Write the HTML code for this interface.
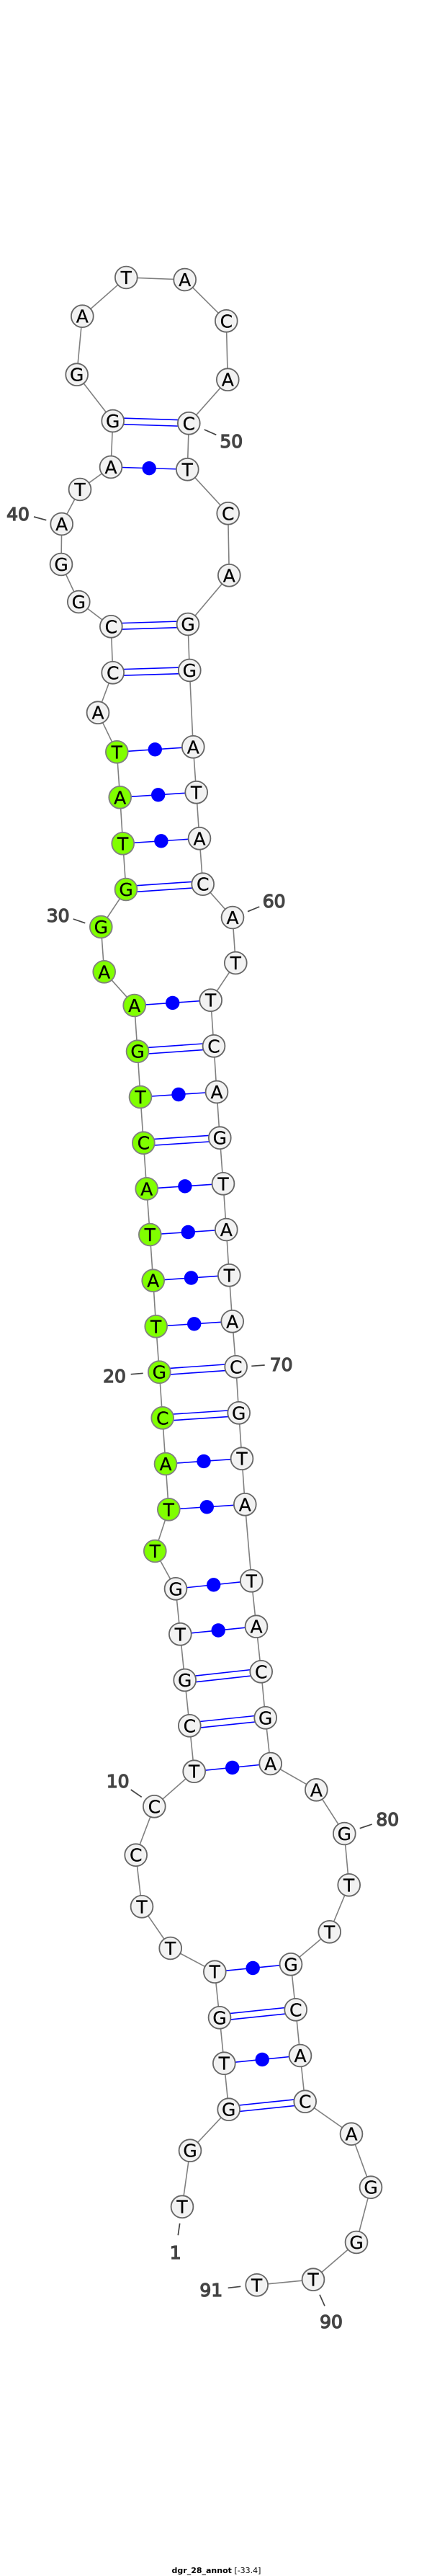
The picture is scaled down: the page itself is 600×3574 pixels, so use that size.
<!DOCTYPE html>
<html><head><meta charset="utf-8"><style>
html,body{margin:0;padding:0;background:#fff}
svg{display:block}
.b{font:25px "DejaVu Sans",sans-serif;fill:#000;stroke:#000;stroke-width:.25;text-anchor:middle}
.l{font:25px "DejaVu Sans",sans-serif;fill:#444;stroke:#444;stroke-width:1.3;text-anchor:middle}
</style></head><body>
<svg xmlns="http://www.w3.org/2000/svg" width="600" height="3574" viewBox="0 0 600 3574">
<rect width="600" height="3574" fill="#fff"/>
<polyline fill="none" stroke="#808080" stroke-width="1.6" points="253,3061.7 264,2983.7 317.7,2926.7 311.3,2862.7 305,2799.3 298.3,2735.7 236.7,2703 197,2645.3 188.7,2573.7 214.3,2506.3 269.7,2457.7 263.3,2394.3 256.7,2331 250.3,2267.3 244,2204.3 215.3,2152 234.3,2094.3 230,2031 225.7,1967.3 221.3,1903.7 216.7,1840.3 212.7,1776.7 208.3,1713 203.7,1649.3 199.3,1585.7 195,1522 191,1458.7 186.7,1395 144.7,1348.3 140.3,1286 175,1234 170.7,1170.3 166.7,1106.3 162.3,1043.3 136,988.7 156.7,933.3 154.3,869.3 109.3,835 85,783 85.7,727 111,679 154,648 156.7,584 106.7,519.7 114.3,438.7 175.3,385 256.7,388 314.3,445.3 316.3,526.7 262.3,587.3 260.3,651.3 316.7,712.3 318.3,798.3 261,866 263.3,930 268.3,1036.3 272.7,1099.3 277,1163.3 281.7,1226.7 323,1273 327.3,1336 292.7,1387.7 297,1451.3 301,1515 305.3,1578.7 310,1642.3 314.3,1706 318.3,1769.3 322.7,1833.3 327.7,1896.3 331.7,1960.3 336,2023.7 340.3,2087.3 349.3,2193.3 356,2256.7 362.7,2319.3 368.7,2383.3 375.7,2447 439.3,2483.3 478.3,2544 484.7,2615.3 457.7,2680.3 404,2725.3 410.7,2788.3 417,2852 423.7,2915.7 488,2960.7 515,3034.7 495,3111 435,3162.7 356.7,3170.3"/>
<g stroke="#0000ff" stroke-width="1.6" fill="none">
<path d="M298.3 2735.7L404 2725.3M311.3 2862.7L417 2852M269.7 2457.7L375.7 2447M250.3 2267.3L356 2256.7M244 2204.3L349.3 2193.3M234.3 2094.3L340.3 2087.3M230 2031L336 2023.7M216.7 1840.3L322.7 1833.3M212.7 1776.7L318.3 1769.3M208.3 1713L314.3 1706M203.7 1649.3L310 1642.3M195 1522L301 1515M186.7 1395L292.7 1387.7M170.7 1170.3L277 1163.3M166.7 1106.3L272.7 1099.3M162.3 1043.3L268.3 1036.3M154 648L260.3 651.3"/>
<path d="M305 2795L410.7 2784M305 2803.6L410.7 2792.6M317.7 2922.4L423.7 2911.4M317.7 2931L423.7 2920M263.3 2390L368.7 2379M263.3 2398.6L368.7 2387.6M256.7 2326.7L362.7 2315M256.7 2335.3L362.7 2323.6M225.7 1963L331.7 1956M225.7 1971.6L331.7 1964.6M221.3 1899.4L327.7 1892M221.3 1908L327.7 1900.6M199.3 1581.4L305.3 1574.4M199.3 1590L305.3 1583M191 1454.4L297 1447M191 1463L297 1455.6M175 1229.7L281.7 1222.4M175 1238.3L281.7 1231M156.7 929L263.3 925.7M156.7 937.6L263.3 934.3M154.3 865L261 861.7M154.3 873.6L261 870.3M156.7 579.7L262.3 583M156.7 588.3L262.3 591.6"/>
</g>
<g fill="#0000ff">
<circle cx="351.2" cy="2730.5" r="9.7"/><circle cx="364.2" cy="2857.4" r="9.7"/><circle cx="322.7" cy="2452.4" r="9.7"/><circle cx="303.2" cy="2262" r="9.7"/><circle cx="296.7" cy="2198.8" r="9.7"/><circle cx="287.3" cy="2090.8" r="9.7"/><circle cx="283" cy="2027.4" r="9.7"/><circle cx="269.7" cy="1836.8" r="9.7"/><circle cx="265.5" cy="1773" r="9.7"/><circle cx="261.3" cy="1709.5" r="9.7"/><circle cx="256.9" cy="1645.8" r="9.7"/><circle cx="248" cy="1518.5" r="9.7"/><circle cx="239.7" cy="1391.4" r="9.7"/><circle cx="223.9" cy="1166.8" r="9.7"/><circle cx="219.7" cy="1102.8" r="9.7"/><circle cx="215.3" cy="1039.8" r="9.7"/><circle cx="207.2" cy="649.7" r="9.7"/>
</g>
<g fill="#f2f2f2" stroke="#666" stroke-width="1.8">
<circle cx="253" cy="3061.7" r="15.4"/><circle cx="264" cy="2983.7" r="15.4"/><circle cx="317.7" cy="2926.7" r="15.4"/><circle cx="311.3" cy="2862.7" r="15.4"/><circle cx="305" cy="2799.3" r="15.4"/><circle cx="298.3" cy="2735.7" r="15.4"/><circle cx="236.7" cy="2703" r="15.4"/><circle cx="197" cy="2645.3" r="15.4"/><circle cx="188.7" cy="2573.7" r="15.4"/><circle cx="214.3" cy="2506.3" r="15.4"/><circle cx="269.7" cy="2457.7" r="15.4"/><circle cx="263.3" cy="2394.3" r="15.4"/><circle cx="256.7" cy="2331" r="15.4"/><circle cx="250.3" cy="2267.3" r="15.4"/><circle cx="244" cy="2204.3" r="15.4"/>
<circle cx="136" cy="988.7" r="15.4"/><circle cx="156.7" cy="933.3" r="15.4"/><circle cx="154.3" cy="869.3" r="15.4"/><circle cx="109.3" cy="835" r="15.4"/><circle cx="85" cy="783" r="15.4"/><circle cx="85.7" cy="727" r="15.4"/><circle cx="111" cy="679" r="15.4"/><circle cx="154" cy="648" r="15.4"/><circle cx="156.7" cy="584" r="15.4"/><circle cx="106.7" cy="519.7" r="15.4"/><circle cx="114.3" cy="438.7" r="15.4"/><circle cx="175.3" cy="385" r="15.4"/><circle cx="256.7" cy="388" r="15.4"/><circle cx="314.3" cy="445.3" r="15.4"/><circle cx="316.3" cy="526.7" r="15.4"/><circle cx="262.3" cy="587.3" r="15.4"/><circle cx="260.3" cy="651.3" r="15.4"/><circle cx="316.7" cy="712.3" r="15.4"/><circle cx="318.3" cy="798.3" r="15.4"/><circle cx="261" cy="866" r="15.4"/><circle cx="263.3" cy="930" r="15.4"/><circle cx="268.3" cy="1036.3" r="15.4"/><circle cx="272.7" cy="1099.3" r="15.4"/><circle cx="277" cy="1163.3" r="15.4"/><circle cx="281.7" cy="1226.7" r="15.4"/><circle cx="323" cy="1273" r="15.4"/><circle cx="327.3" cy="1336" r="15.4"/><circle cx="292.7" cy="1387.7" r="15.4"/><circle cx="297" cy="1451.3" r="15.4"/><circle cx="301" cy="1515" r="15.4"/><circle cx="305.3" cy="1578.7" r="15.4"/><circle cx="310" cy="1642.3" r="15.4"/><circle cx="314.3" cy="1706" r="15.4"/><circle cx="318.3" cy="1769.3" r="15.4"/><circle cx="322.7" cy="1833.3" r="15.4"/><circle cx="327.7" cy="1896.3" r="15.4"/><circle cx="331.7" cy="1960.3" r="15.4"/><circle cx="336" cy="2023.7" r="15.4"/><circle cx="340.3" cy="2087.3" r="15.4"/><circle cx="349.3" cy="2193.3" r="15.4"/><circle cx="356" cy="2256.7" r="15.4"/><circle cx="362.7" cy="2319.3" r="15.4"/><circle cx="368.7" cy="2383.3" r="15.4"/><circle cx="375.7" cy="2447" r="15.4"/><circle cx="439.3" cy="2483.3" r="15.4"/><circle cx="478.3" cy="2544" r="15.4"/><circle cx="484.7" cy="2615.3" r="15.4"/><circle cx="457.7" cy="2680.3" r="15.4"/><circle cx="404" cy="2725.3" r="15.4"/><circle cx="410.7" cy="2788.3" r="15.4"/><circle cx="417" cy="2852" r="15.4"/><circle cx="423.7" cy="2915.7" r="15.4"/><circle cx="488" cy="2960.7" r="15.4"/><circle cx="515" cy="3034.7" r="15.4"/><circle cx="495" cy="3111" r="15.4"/><circle cx="435" cy="3162.7" r="15.4"/><circle cx="356.7" cy="3170.3" r="15.4"/>
</g>
<g fill="#80ff00" stroke="#808080" stroke-width="1.8">
<circle cx="215.3" cy="2152" r="15.4"/><circle cx="234.3" cy="2094.3" r="15.4"/><circle cx="230" cy="2031" r="15.4"/><circle cx="225.7" cy="1967.3" r="15.4"/><circle cx="221.3" cy="1903.7" r="15.4"/><circle cx="216.7" cy="1840.3" r="15.4"/><circle cx="212.7" cy="1776.7" r="15.4"/><circle cx="208.3" cy="1713" r="15.4"/><circle cx="203.7" cy="1649.3" r="15.4"/><circle cx="199.3" cy="1585.7" r="15.4"/><circle cx="195" cy="1522" r="15.4"/><circle cx="191" cy="1458.7" r="15.4"/><circle cx="186.7" cy="1395" r="15.4"/><circle cx="144.7" cy="1348.3" r="15.4"/><circle cx="140.3" cy="1286" r="15.4"/><circle cx="175" cy="1234" r="15.4"/><circle cx="170.7" cy="1170.3" r="15.4"/><circle cx="166.7" cy="1106.3" r="15.4"/><circle cx="162.3" cy="1043.3" r="15.4"/>
</g>
<g class="letters">
<text class="b" x="253" y="3070.7">T</text><text class="b" x="264" y="2992.7">G</text><text class="b" x="317.7" y="2935.7">G</text><text class="b" x="311.3" y="2871.7">T</text><text class="b" x="305" y="2808.3">G</text><text class="b" x="298.3" y="2744.7">T</text><text class="b" x="236.7" y="2712">T</text><text class="b" x="197" y="2654.3">T</text><text class="b" x="188.7" y="2582.7">C</text><text class="b" x="214.3" y="2515.3">C</text><text class="b" x="269.7" y="2466.7">T</text><text class="b" x="263.3" y="2403.3">C</text><text class="b" x="256.7" y="2340">G</text><text class="b" x="250.3" y="2276.3">T</text><text class="b" x="244" y="2213.3">G</text><text class="b" x="215.3" y="2161">T</text><text class="b" x="234.3" y="2103.3">T</text><text class="b" x="230" y="2040">A</text><text class="b" x="225.7" y="1976.3">C</text><text class="b" x="221.3" y="1912.7">G</text><text class="b" x="216.7" y="1849.3">T</text><text class="b" x="212.7" y="1785.7">A</text><text class="b" x="208.3" y="1722">T</text><text class="b" x="203.7" y="1658.3">A</text><text class="b" x="199.3" y="1594.7">C</text><text class="b" x="195" y="1531">T</text><text class="b" x="191" y="1467.7">G</text><text class="b" x="186.7" y="1404">A</text><text class="b" x="144.7" y="1357.3">A</text><text class="b" x="140.3" y="1295">G</text><text class="b" x="175" y="1243">G</text><text class="b" x="170.7" y="1179.3">T</text><text class="b" x="166.7" y="1115.3">A</text><text class="b" x="162.3" y="1052.3">T</text><text class="b" x="136" y="997.7">A</text><text class="b" x="156.7" y="942.3">C</text><text class="b" x="154.3" y="878.3">C</text><text class="b" x="109.3" y="844">G</text><text class="b" x="85" y="792">G</text><text class="b" x="85.7" y="736">A</text><text class="b" x="111" y="688">T</text><text class="b" x="154" y="657">A</text><text class="b" x="156.7" y="593">G</text><text class="b" x="106.7" y="528.7">G</text><text class="b" x="114.3" y="447.7">A</text><text class="b" x="175.3" y="394">T</text><text class="b" x="256.7" y="397">A</text><text class="b" x="314.3" y="454.3">C</text><text class="b" x="316.3" y="535.7">A</text><text class="b" x="262.3" y="596.3">C</text><text class="b" x="260.3" y="660.3">T</text><text class="b" x="316.7" y="721.3">C</text><text class="b" x="318.3" y="807.3">A</text><text class="b" x="261" y="875">G</text><text class="b" x="263.3" y="939">G</text><text class="b" x="268.3" y="1045.3">A</text><text class="b" x="272.7" y="1108.3">T</text><text class="b" x="277" y="1172.3">A</text><text class="b" x="281.7" y="1235.7">C</text><text class="b" x="323" y="1282">A</text><text class="b" x="327.3" y="1345">T</text><text class="b" x="292.7" y="1396.7">T</text><text class="b" x="297" y="1460.3">C</text><text class="b" x="301" y="1524">A</text><text class="b" x="305.3" y="1587.7">G</text><text class="b" x="310" y="1651.3">T</text><text class="b" x="314.3" y="1715">A</text><text class="b" x="318.3" y="1778.3">T</text><text class="b" x="322.7" y="1842.3">A</text><text class="b" x="327.7" y="1905.3">C</text><text class="b" x="331.7" y="1969.3">G</text><text class="b" x="336" y="2032.7">T</text><text class="b" x="340.3" y="2096.3">A</text><text class="b" x="349.3" y="2202.3">T</text><text class="b" x="356" y="2265.7">A</text><text class="b" x="362.7" y="2328.3">C</text><text class="b" x="368.7" y="2392.3">G</text><text class="b" x="375.7" y="2456">A</text><text class="b" x="439.3" y="2492.3">A</text><text class="b" x="478.3" y="2553">G</text><text class="b" x="484.7" y="2624.3">T</text><text class="b" x="457.7" y="2689.3">T</text><text class="b" x="404" y="2734.3">G</text><text class="b" x="410.7" y="2797.3">C</text><text class="b" x="417" y="2861">A</text><text class="b" x="423.7" y="2924.7">C</text><text class="b" x="488" y="2969.7">A</text><text class="b" x="515" y="3043.7">G</text><text class="b" x="495" y="3120">G</text><text class="b" x="435" y="3171.7">T</text><text class="b" x="356.7" y="3179.3">T</text>
</g>
<path stroke="#444" stroke-width="1.7" fill="none" d="M283.7 596L300.3 603.3M47 717L64.3 721.7M344 1264.7L360.3 1258M101.7 1275L118.3 1280.7M181.7 1906.7L198.7 1905.3M349.3 1895.3L367.7 1894M181.7 2483L196.7 2493.3M499.7 2536.7L516.7 2531M249.7 3084.7L247.3 3101.3M444 3183.7L451 3199.3M316.7 3174.3L334.3 3172.3"/>
<g>
<text class="l" x="321.3" y="621">50</text><text class="l" x="25" y="722">40</text><text class="l" x="380.7" y="1259">60</text><text class="l" x="80.7" y="1279">30</text><text class="l" x="159" y="1918">20</text><text class="l" x="390.7" y="1902">70</text><text class="l" x="163.7" y="2480">10</text><text class="l" x="538.3" y="2533">80</text><text class="l" x="243.7" y="3134">1</text><text class="l" x="460" y="3230">90</text><text class="l" x="293.3" y="3186">91</text>
</g>
<text x="300.5" y="3570" text-anchor="middle" font-family="'DejaVu Sans',sans-serif" font-size="11" fill="#000"><tspan font-weight="bold">dgr_28_annot</tspan> [-33.4]</text>
</svg>
</body></html>
